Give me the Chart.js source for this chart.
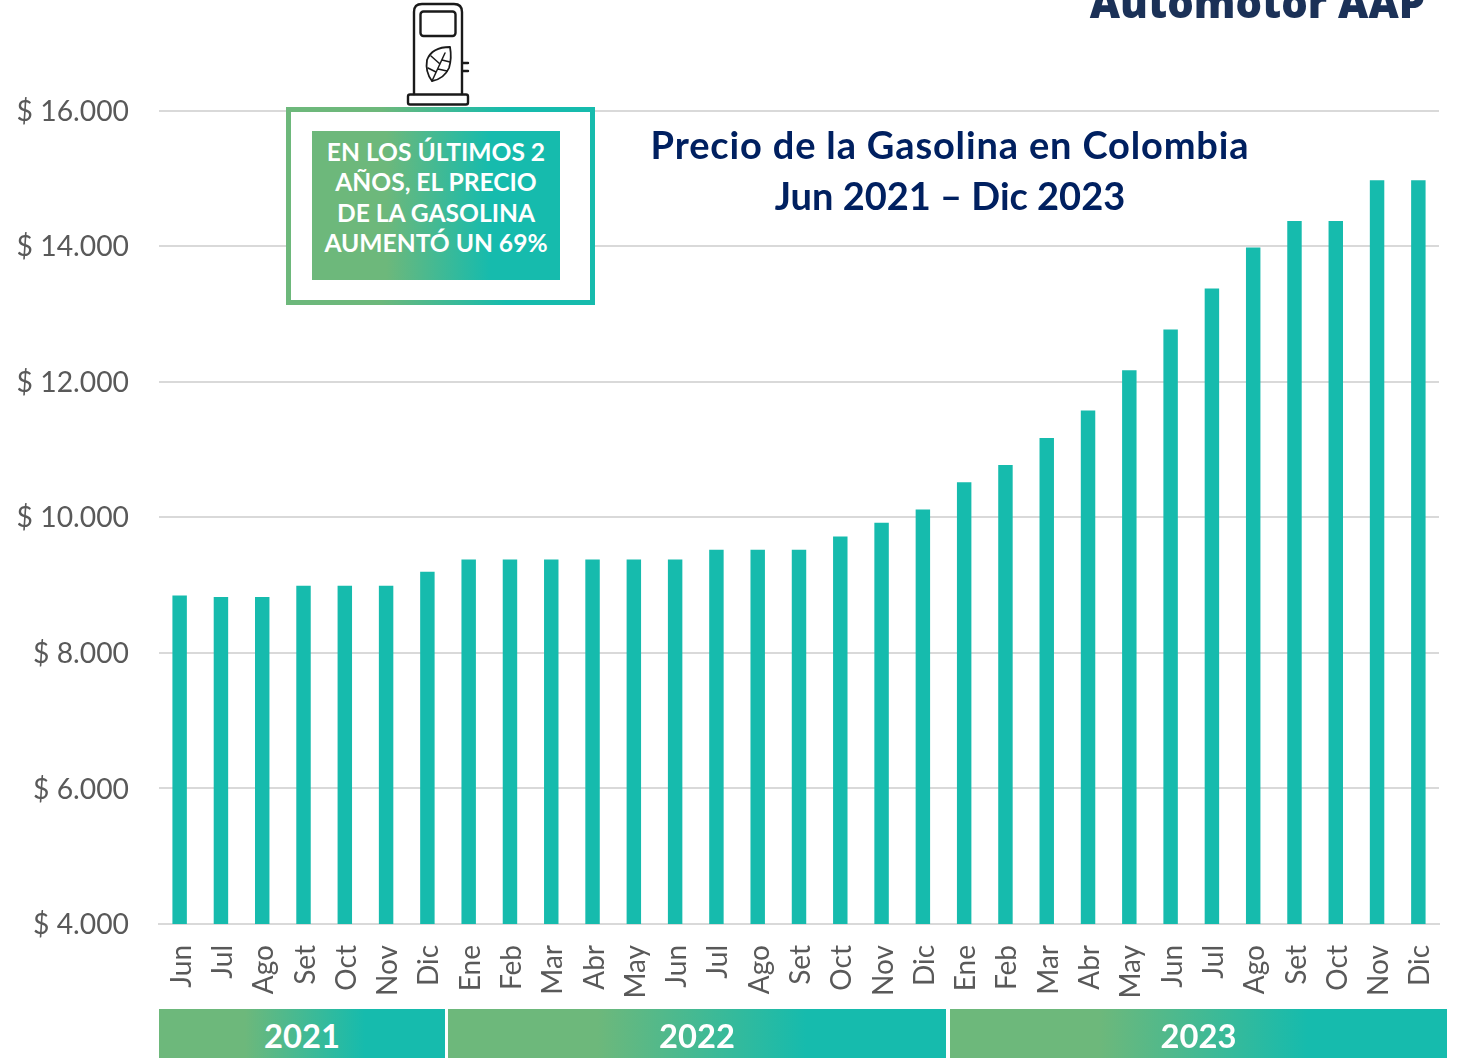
<!DOCTYPE html>
<html lang="es">
<head>
    <meta charset="UTF-8">
    <title>Precio de la Gasolina en Colombia</title>
    <script src="https://cdn.jsdelivr.net/npm/chart.js"></script>
    <style>
        html, body { margin: 0; padding: 0; background: #fff; }
        body { width: 1458px; height: 1058px; position: relative; overflow: hidden; font-family: Lato, sans-serif; }
        canvas { position: absolute; left: 0; top: 0; }
        .abs { position: absolute; }
        .grad { background: linear-gradient(90deg, #6db87b 30%, #16bbad 72%); }

        .brand { left: 900px; width: 525px; top: -23px; text-align: right; font: 800 41.7px/50px "Open Sans", sans-serif; color: #1b3157; white-space: nowrap; }
        .title { left: 600px; width: 700px; top: 119px; text-align: center; font-weight: 700; font-size: 38px; line-height: 51px; color: #002060; }
        .title span { letter-spacing: 0.85px; }

        .callout { left: 286px; top: 107px; width: 299px; height: 188px; border: 5px solid; border-image: linear-gradient(90deg, #6db87b 30%, #16bbad 72%) 1; background: #fff; }
        .callout-text { left: 312px; top: 131px; width: 248px; height: 149px; color: #fff; text-align: center; font-weight: 700; font-size: 24.6px; line-height: 30.3px; padding-top: 6px; box-sizing: border-box; white-space: nowrap; }

        .year { top: 1009px; height: 49px; color: #fff; text-align: center; font-weight: 700; font-size: 32.7px; line-height: 54px; }
    </style>
</head>
<body>
    <canvas id="priceChart" width="1458" height="1058"></canvas>

    <div class="abs brand">Automotor AAP</div>
    <div class="abs title"><span>Precio de la Gasolina en Colombia</span><br>Jun 2021 – Dic 2023</div>

    <!-- Callout with pump icon -->
    <svg class="abs" style="left:400px;top:0" width="76" height="108" viewBox="400 0 76 108" fill="none" stroke="#1a1a1a" stroke-width="2.4" stroke-linejoin="round" stroke-linecap="round">
        <path d="M414 94V12Q414 4 422 4H454Q462 4 462 12V94"/>
        <rect x="420.5" y="11.5" width="35" height="24.5" rx="3"/>
        <rect x="408" y="94.5" width="60" height="10" rx="2"/>
        <path d="M463 63H468M463 71H468"/>
        <path d="M450 47Q432 47 427 60Q425 72 432 81Q444 79 449 68Q452 58 450 47Z" stroke-width="1.8"/>
        <path d="M432 81L445 53M436 72L428 68M440 64L431 56M438 69L447 71M442 60L450 62" stroke-width="1.5"/>
    </svg>
    <div class="abs callout"></div>
    <div class="abs grad callout-text">EN LOS ÚLTIMOS 2<br>AÑOS, EL PRECIO<br>DE LA GASOLINA<br>AUMENTÓ UN 69%</div>

    <!-- Year bands under the axis -->
    <div class="abs grad year" style="left:159px;width:286px">2021</div>
    <div class="abs grad year" style="left:448px;width:498px">2022</div>
    <div class="abs grad year" style="left:950px;width:497px">2023</div>

    <script>
        const months = ['Jun', 'Jul', 'Ago', 'Set', 'Oct', 'Nov', 'Dic',
            'Ene', 'Feb', 'Mar', 'Abr', 'May', 'Jun', 'Jul', 'Ago', 'Set', 'Oct', 'Nov', 'Dic',
            'Ene', 'Feb', 'Mar', 'Abr', 'May', 'Jun', 'Jul', 'Ago', 'Set', 'Oct', 'Nov', 'Dic'];
        const prices = [8845, 8825, 8825, 8990, 8990, 8990, 9195,
            9375, 9375, 9375, 9375, 9375, 9375, 9520, 9520, 9520, 9715, 9920, 10115,
            10515, 10770, 11170, 11575, 12170, 12770, 13375, 13980, 14370, 14370, 14970, 14970];
        const yMin = 4000;
        const yMax = 16000;
        const yStep = 2000;

        Chart.defaults.animation = false;

        new Chart(document.getElementById('priceChart'), {
            type: 'bar',
            data: {
                labels: months,
                datasets: [{
                    data: prices,
                    backgroundColor: '#16bbad',
                    barPercentage: 0.35,
                    categoryPercentage: 1
                }]
            },
            options: {
                responsive: false,
                layout: { padding: { top: 110.5, right: 19, bottom: 0, left: 0 } },
                plugins: { legend: { display: false }, tooltip: { enabled: false } },
                scales: {
                    x: {
                        afterFit: s => { s.height = 134; s.paddingLeft = 0; s.paddingRight = 0; },
                        grid: { display: false },
                        border: { color: '#d9d9d9', width: 2 },
                        ticks: {
                            color: '#595959',
                            font: { family: 'Lato', size: 28 },
                            minRotation: 90,
                            maxRotation: 90,
                            autoSkip: false,
                            padding: 13,
                            labelOffset: 2
                        }
                    },
                    y: {
                        min: yMin,
                        max: yMax,
                        afterFit: s => { s.width = 159; },
                        grid: { color: '#d9d9d9', lineWidth: 2, drawTicks: false },
                        border: { display: false },
                        ticks: {
                            stepSize: yStep,
                            color: '#595959',
                            font: { family: 'Lato', size: 28.3 },
                            padding: 30,
                            labelOffset: 1,
                            callback: v => '$ ' + v.toLocaleString('es-CO').replace(',', '.')
                        }
                    }
                }
            }
        });
    </script>
</body>
</html>
